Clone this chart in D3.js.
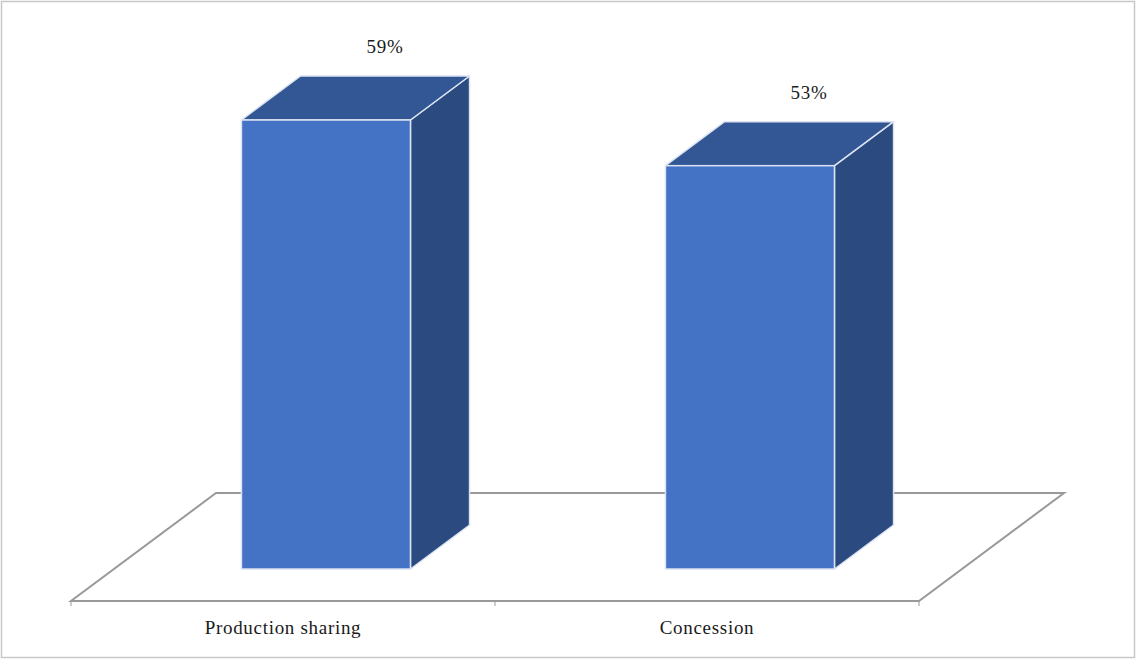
<!DOCTYPE html>
<html>
<head>
<meta charset="utf-8">
<script src="https://cdn.jsdelivr.net/npm/d3@7"></script>
<style>
  html, body { margin: 0; padding: 0; background: #fff; }
  svg { display: block; }
  text { font-family: "Liberation Serif", "DejaVu Serif", serif; fill: #1a1a1a; }
</style>
</head>
<body>
<svg id="chart" width="1136" height="659"></svg>
<script>
// Chart data
const categories = ["Production sharing", "Concession"];
const values = [59, 53];
const valueLabels = ["59%", "53%"];

const svg = d3.select("#chart");
const W = 1136, H = 659;

// Outer frame
svg.append("rect")
  .attr("x", 1.5).attr("y", 1.5)
  .attr("width", W - 3).attr("height", H - 3)
  .attr("fill", "#fff").attr("stroke", "#c8c8c8").attr("stroke-width", 1.5);

// Floor geometry (front edge and depth vector)
const floorLeft = 71, floorRight = 919, floorFrontY = 601;
const depthX = 145, depthY = -108;          // full floor depth
const barDepthFrac = 44 / 108;              // bar depth relative to floor depth
const barInset = (1 - barDepthFrac) / 2;    // bars sit in the middle of the floor

// one band per category along the front edge of the floor
const bandOuter = d3.scaleBand().domain(categories).range([floorLeft, floorRight]);

const baseY = floorFrontY + depthY * barInset;   // bar bottom (front face)
const y = d3.scaleLinear().domain([0, 70]).range([baseY, baseY - 70 * 7.61]);

const dx = depthX * barDepthFrac, dy = depthY * barDepthFrac;
const shiftX = depthX * barInset;

// Floor parallelogram
const floor = svg.append("g");
floor.append("path")
  .attr("d", `M${floorLeft},${floorFrontY} L${floorRight},${floorFrontY} L${floorRight + depthX},${floorFrontY + depthY} L${floorLeft + depthX},${floorFrontY + depthY} Z`)
  .attr("fill", "none").attr("stroke", "#999").attr("stroke-width", 2).attr("stroke-linejoin", "miter");

// Category tick marks on the front edge
const tickXs = [floorLeft].concat(categories.map(c => bandOuter(c) + bandOuter.bandwidth()));
floor.selectAll("line.tick").data(tickXs).join("line")
  .attr("x1", d => d).attr("x2", d => d)
  .attr("y1", floorFrontY).attr("y2", floorFrontY + 5)
  .attr("stroke", "#999").attr("stroke-width", 1);

// Bars
const bw = 169;
const barFrontX = c => bandOuter(c) + bandOuter.bandwidth() / 2 + shiftX - bw / 2;

const bars = svg.selectAll("g.bar").data(categories.map((c, i) => ({ c, v: values[i], label: valueLabels[i] })))
  .join("g").attr("class", "bar");

const edge = "#dce4f2";
bars.each(function(d) {
  const g = d3.select(this);
  const x0 = barFrontX(d.c), x1 = x0 + bw;
  const yt = y(d.v), yb = y(0);
  // side face
  g.append("path")
    .attr("d", `M${x1},${yt} L${x1 + dx},${yt + dy} L${x1 + dx},${yb + dy} L${x1},${yb} Z`)
    .attr("fill", "#2a4a80").attr("stroke", edge).attr("stroke-width", 1.5).attr("stroke-linejoin", "round");
  // top face
  g.append("path")
    .attr("d", `M${x0},${yt} L${x0 + dx},${yt + dy} L${x1 + dx},${yt + dy} L${x1},${yt} Z`)
    .attr("fill", "#335795").attr("stroke", edge).attr("stroke-width", 1.5).attr("stroke-linejoin", "round");
  // front face
  g.append("rect")
    .attr("x", x0).attr("y", yt).attr("width", bw).attr("height", yb - yt)
    .attr("fill", "#4472c4").attr("stroke", edge).attr("stroke-width", 1.5);
  // value label centred over the back edge of the top face
  g.append("text")
    .attr("x", x0 + dx + bw / 2).attr("y", yt + dy - 23)
    .attr("text-anchor", "middle").attr("font-size", 19)
    .attr("letter-spacing", 0.8)
    .text(d.label);
});

// Category labels
svg.selectAll("text.cat").data(categories).join("text")
  .attr("class", "cat")
  .attr("x", d => bandOuter(d) + bandOuter.bandwidth() / 2)
  .attr("y", 634)
  .attr("text-anchor", "middle").attr("font-size", 19)
  .attr("letter-spacing", 0.7)
  .text(d => d);
</script>
</body>
</html>
